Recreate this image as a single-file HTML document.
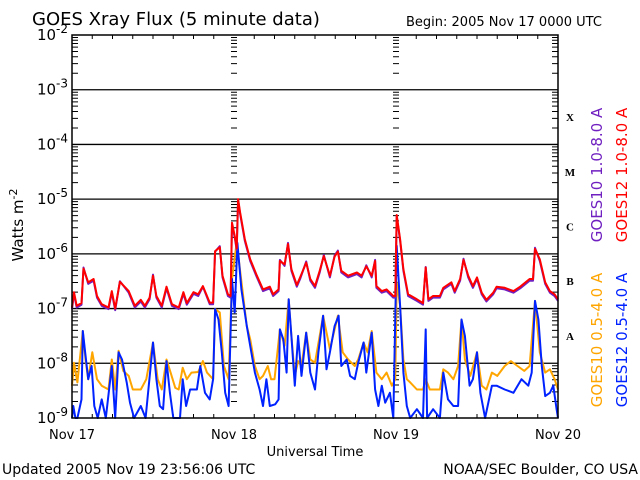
<!DOCTYPE html>
<html><head><meta charset="utf-8"><style>
body{margin:0;background:#fff;width:640px;height:480px;overflow:hidden}
svg{display:block;font-family:"DejaVu Sans","Liberation Sans",sans-serif}
</style></head><body>
<svg id="c" width="640" height="480">
<text x="32" y="25" font-size="18">GOES Xray Flux (5 minute data)</text>
<text x="406" y="26" font-size="13">Begin:  2005 Nov 17 0000 UTC</text>
<text x="2" y="474" font-size="14">Updated 2005 Nov 19 23:56:06 UTC</text>
<text x="638" y="474" font-size="14" text-anchor="end">NOAA/SEC Boulder, CO USA</text>
<text x="315" y="456" font-size="13" text-anchor="middle">Universal Time</text>
<text transform="translate(23,225) rotate(-90)" font-size="15" text-anchor="middle">Watts m<tspan dy="-6" font-size="11">-2</tspan></text>
<g id="plot"></g>
</svg>
<script>
const dayLabels=["Nov 17","Nov 18","Nov 19","Nov 20"];
const decadeExps=[-2,-3,-4,-5,-6,-7,-8,-9];
const classLabels=["X","M","C","B","A"];
const classExps=[-3.5,-4.5,-5.5,-6.5,-7.5];

const g12LongH=[0,0.3,0.7,1.4,1.7,2.4,3.2,3.7,4.4,5.4,5.9,6.4,7.1,8.4,9.3,10.2,10.8,11.5,12.0,12.5,13.3,14.0,14.8,15.8,16.5,17.0,18.0,18.7,19.4,20.4,20.9,21.2,21.9,22.3,23.1,23.5,23.7,24.1,24.4,24.6,24.9,25.6,26.4,27.4,28.3,29.3,29.8,30.6,30.8,31.5,32.0,32.5,33.3,33.8,34.7,35.3,36.0,36.7,37.3,38.2,38.9,39.4,39.9,40.9,42.2,42.9,43.6,44.4,44.9,45.1,45.9,46.6,47.6,47.9,48.1,48.6,49.1,49.8,51.1,52.0,52.4,52.8,53.5,54.5,55.0,56.2,56.7,57.5,58.0,58.7,59.4,60.0,60.7,61.4,62.4,62.9,64.1,65.4,66.4,67.8,68.3,68.6,69.3,70.1,70.8,71.5,72];
const g12LongV=[-6.98,-6.7,-6.95,-6.9,-6.27,-6.52,-6.46,-6.77,-6.92,-6.98,-6.68,-7.0,-6.51,-6.68,-6.95,-6.84,-6.95,-6.8,-6.4,-6.77,-6.95,-6.6,-6.92,-6.98,-6.7,-6.9,-6.7,-6.74,-6.59,-6.89,-6.89,-5.95,-5.88,-6.4,-6.74,-6.77,-5.43,-5.67,-5.9,-5.0,-5.24,-5.73,-6.1,-6.4,-6.65,-6.6,-6.74,-6.65,-6.13,-6.19,-5.82,-6.28,-6.57,-6.43,-6.16,-6.46,-6.59,-6.31,-6.04,-6.4,-6.05,-5.96,-6.31,-6.4,-6.34,-6.4,-6.23,-6.4,-6.13,-6.59,-6.68,-6.65,-6.77,-6.77,-5.29,-5.73,-6.28,-6.74,-6.83,-6.9,-6.25,-6.83,-6.77,-6.77,-6.62,-6.52,-6.68,-6.46,-6.11,-6.4,-6.59,-6.43,-6.71,-6.84,-6.71,-6.6,-6.62,-6.68,-6.6,-6.46,-6.46,-5.91,-6.1,-6.52,-6.68,-6.74,-6.83];

const g10LongH=[0,0.3,0.7,1.4,1.7,2.4,3.2,3.7,4.4,5.4,5.9,6.4,7.1,8.4,9.3,10.2,10.8,11.5,12.0,12.5,13.3,14.0,14.8,15.8,16.5,17.0,18.0,18.7,19.4,20.4,20.9,21.2,21.9,22.3,23.1,23.5,23.7,24.1,24.4,24.6,24.9,25.6,26.4,27.4,28.3,29.3,29.8,30.6,30.8,31.5,32.0,32.5,33.3,33.8,34.7,35.3,36.0,36.7,37.3,38.2,38.9,39.4,39.9,40.9,42.2,42.9,43.6,44.4,44.9,45.1,45.9,46.6,47.6,47.9,48.1,48.6,49.1,49.8,51.1,52.0,52.4,52.8,53.5,54.5,55.0,56.2,56.7,57.5,58.0,58.7,59.4,60.0,60.7,61.4,62.4,62.9,64.1,65.4,66.4,67.8,68.3,68.6,69.3,70.1,70.8,71.5,72];
const g10LongV=[-7.01,-6.73,-6.98,-6.93,-6.25,-6.55,-6.49,-6.8,-6.95,-7.01,-6.71,-7.03,-6.5,-6.71,-6.98,-6.87,-6.98,-6.83,-6.38,-6.8,-6.98,-6.63,-6.95,-7.01,-6.73,-6.93,-6.73,-6.77,-6.6,-6.92,-6.92,-5.96,-5.86,-6.43,-6.77,-6.8,-5.46,-5.7,-5.93,-5.02,-5.27,-5.76,-6.13,-6.43,-6.68,-6.63,-6.77,-6.68,-6.11,-6.22,-5.8,-6.31,-6.6,-6.46,-6.14,-6.49,-6.62,-6.34,-6.02,-6.43,-6.03,-5.94,-6.34,-6.43,-6.37,-6.43,-6.21,-6.43,-6.11,-6.62,-6.71,-6.68,-6.8,-6.8,-5.31,-5.76,-6.31,-6.77,-6.86,-6.93,-6.24,-6.86,-6.8,-6.8,-6.65,-6.55,-6.71,-6.49,-6.09,-6.43,-6.62,-6.46,-6.74,-6.87,-6.74,-6.63,-6.65,-6.71,-6.63,-6.49,-6.49,-5.89,-6.13,-6.55,-6.71,-6.77,-6.86];

const g10ShortH=[0,0.3,0.8,1.6,2.0,2.4,3.0,3.7,4.4,5.4,5.9,6.4,6.9,7.6,8.4,9.0,10.2,11.0,12.0,12.7,13.3,14.0,14.6,15.3,15.8,16.4,17.0,17.7,18.7,19.4,20.0,20.9,21.2,21.9,22.5,23.2,23.7,24.4,25.9,26.4,27.1,27.8,28.3,29.0,29.5,30.0,30.8,31.5,32.1,32.5,33.0,33.5,34.0,34.7,35.3,36.0,36.7,37.2,38.2,39.4,40.1,40.9,41.9,42.4,43.2,43.8,44.4,45.1,45.9,46.6,47.4,47.9,48.1,48.6,49.1,49.6,50.1,51.1,52.0,52.4,53.0,54.5,55.0,55.7,56.5,57.2,57.7,58.2,59.0,60.0,60.7,61.4,62.2,63.0,64.1,65.0,66.0,67.0,67.8,68.6,69.3,70.1,70.8,71.5,72];
const g10ShortV=[-8.41,-7.99,-8.35,-7.41,-7.93,-8.29,-7.8,-8.29,-8.41,-8.48,-7.93,-8.48,-7.77,-8.14,-8.23,-8.48,-8.48,-8.29,-7.62,-8.29,-8.48,-7.93,-8.17,-8.45,-8.48,-8.08,-8.29,-8.17,-8.16,-7.96,-8.17,-8.29,-7.01,-7.07,-8.05,-8.29,-6.46,-5.79,-7.32,-7.56,-8.05,-8.29,-8.23,-8.05,-8.29,-8.29,-7.38,-7.68,-6.83,-7.5,-8.23,-7.96,-8.05,-7.44,-7.93,-7.99,-7.5,-7.13,-7.74,-7.13,-7.8,-7.93,-8.05,-7.93,-7.62,-7.8,-7.41,-8.17,-8.29,-8.17,-8.41,-8.29,-6.52,-6.95,-7.93,-8.29,-8.35,-8.48,-8.48,-8.29,-8.48,-8.48,-8.11,-8.17,-8.29,-8.05,-7.2,-7.93,-8.23,-7.8,-8.41,-8.48,-8.17,-8.23,-8.05,-7.96,-8.05,-8.14,-8.05,-6.86,-7.8,-8.17,-8.11,-8.29,-8.48];

const g12ShortH=[0,0.2,0.5,0.8,1.4,1.6,1.9,2.4,2.9,3.3,3.8,4.4,5.0,5.9,6.4,6.9,7.4,8.1,8.6,9.2,10.2,10.9,12.0,12.5,13.0,13.5,14.0,14.5,15.0,16.0,16.4,16.9,17.5,18.5,19.0,19.7,20.4,20.9,21.2,21.7,22.2,22.7,23.2,23.7,24.1,24.5,25.1,25.9,26.4,27.1,27.8,28.3,28.8,29.3,30.1,30.6,30.8,31.3,31.8,32.1,32.5,33.0,33.5,34.0,34.7,35.3,36.0,36.5,37.2,37.7,38.2,38.9,39.5,39.9,40.7,41.2,41.9,42.4,43.2,43.6,44.4,44.9,45.4,45.9,46.4,47.1,47.6,48.1,48.6,49.1,49.6,50.1,51.1,52.0,52.4,52.6,53.5,54.5,55.0,55.7,56.5,57.2,57.7,58.2,58.9,59.4,60.0,60.5,61.2,62.2,62.9,64.1,65.4,66.6,67.6,68.1,68.6,69.1,69.6,70.1,70.8,71.3,71.8,72];
const g12ShortV=[-9,-8.78,-9,-9,-8.66,-7.41,-7.74,-8.29,-8.05,-8.78,-9,-8.66,-9,-8.05,-9,-7.8,-7.93,-8.35,-8.72,-9,-8.78,-9,-7.62,-8.29,-8.78,-8.84,-7.96,-8.54,-9,-9,-8.29,-8.78,-8.48,-8.48,-8.05,-8.54,-8.66,-8.29,-7.01,-7.2,-7.8,-8.54,-8.78,-6.46,-7.07,-5.8,-6.65,-7.32,-7.68,-8.17,-8.48,-8.78,-8.29,-8.78,-8.75,-8.66,-7.38,-7.56,-8.17,-6.83,-7.5,-8.41,-7.5,-8.23,-7.44,-8.17,-8.48,-7.8,-7.13,-8.11,-7.8,-7.32,-7.13,-8.05,-7.93,-8.23,-8.29,-7.99,-7.62,-8.17,-7.44,-8.48,-8.78,-8.41,-8.72,-8.54,-9,-5.85,-6.95,-8.17,-8.78,-9,-8.84,-9,-7.38,-9,-8.84,-9,-8.17,-8.66,-8.78,-8.78,-7.2,-7.5,-8.41,-8.29,-7.8,-8.54,-9,-8.41,-8.41,-8.48,-8.54,-8.29,-8.41,-8.17,-6.86,-7.2,-8.05,-8.6,-8.54,-8.41,-8.84,-9];

const NS='http://www.w3.org/2000/svg';
const L=72,R=558,T=35,B=418;
const xS=h=>L+(R-L)*h/72;
const yS=v=>T+(B-T)*(-2-v)/7;
const plot=document.getElementById('plot');
function mk(tag,at){const e=document.createElementNS(NS,tag);for(const k in at)e.setAttribute(k,at[k]);plot.appendChild(e);return e;}

decadeExps.forEach(d=>{
  if(d<-2&&d>-9){
    const ln=mk('line',{x1:L,x2:R,y1:yS(d),y2:yS(d),stroke:'#000','stroke-width':1.3});
    
    
  }
  const t=mk('text',{x:L-4,y:yS(d)+5,'font-size':15,'text-anchor':'end'});
  
  
  t.innerHTML='10<tspan dy="-7" font-size="12">'+d+'</tspan>';
});
let tk='';
for(let d=-9;d<-2;d++){for(let m=2;m<=9;m++){const y=yS(d+Math.log10(m));
  tk+=`M${L} ${y}h6M${R} ${y}h-6M${xS(24)-3} ${y}h6M${xS(48)-3} ${y}h6`;}}
for(let h=0;h<=72;h+=3){const x=xS(h);const len=h%24==0?0:4;tk+=`M${x} ${T}v${len}M${x} ${B}v-${len}`;}
const ticks=mk('path',{d:tk,stroke:'#000','stroke-width':1,fill:'none'});


dayLabels.forEach((s,i)=>{const t=mk('text',{x:xS(i*24),y:439,'font-size':13,'text-anchor':'middle'});
  
  
  t.textContent=s;});
classLabels.forEach((s,i)=>{const t=mk('text',{x:570,y:yS(classExps[i])+4,'font-size':11,'font-weight':'bold','text-anchor':'middle','font-family':'Liberation Serif, serif'});
  
  
  t.textContent=s;});
function series(H,V,col,name){
  let p=H.map((h,i)=>xS(h).toFixed(1)+','+yS(Math.max(-9,V[i])).toFixed(1)).join(' ');
  const e=mk('polyline',{points:p,fill:'none',stroke:col,'stroke-width':2,'stroke-linejoin':'round'});
  
  
}
series(g10ShortH,g10ShortV,'#ffa500','goes10-short-line');
series(g12ShortH,g12ShortV,'#0022ff','goes12-short-line');
series(g10LongH,g10LongV,'#7020c0','goes10-long-line');
series(g12LongH,g12LongV,'#ff0000','goes12-long-line');
const fr=mk('rect',{x:L,y:T,width:R-L,height:B-T,fill:'none',stroke:'#000','stroke-width':1.5});


const leg=[['GOES10 1.0-8.0 A','#7020c0',602,175],['GOES12 1.0-8.0 A','#ff0000',627,175],['GOES10 0.5-4.0 A','#ffa500',602,340],['GOES12 0.5-4.0 A','#0022ff',627,340]];
leg.forEach(l=>{const t=mk('text',{transform:`translate(${l[2]},${l[3]}) rotate(-90)`,'font-size':15,fill:l[1],'text-anchor':'middle'});
  
  
  t.textContent=l[0];});
</script>
</body></html>
